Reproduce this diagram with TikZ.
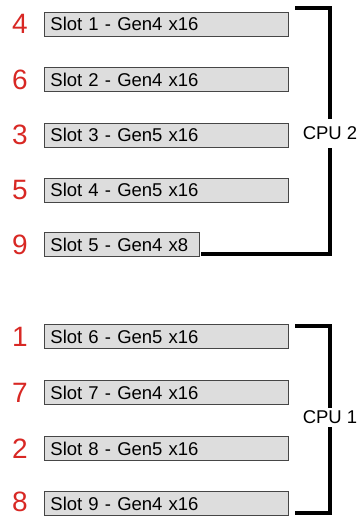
\documentclass[tikz,border=0pt]{standalone}
\usepackage{fontspec}
\setmainfont{Liberation Sans}
\usepackage{xcolor}
\usetikzlibrary{positioning}

\definecolor{slotgray}{RGB}{221,221,221}
\definecolor{slotedge}{RGB}{70,70,70}
\definecolor{numred}{RGB}{216,40,36}

\begin{document}
\begin{tikzpicture}[
  x=1pt, y=-1pt,
  every node/.style={font=\fontsize{18.5}{20}\selectfont},
  slot/.style={rectangle, draw=slotedge, line width=0.9pt, fill=slotgray,
               text width=232pt, align=left, inner xsep=6pt, inner ysep=0pt,
               minimum height=24pt, anchor=west},
  shortslot/.style={slot, text width=143pt},
  num/.style={text=numred, font=\fontsize{28}{30}\selectfont, inner sep=0pt},
  cpu/.style={inner sep=0pt, minimum height=#1},
  brace/.style={line width=3.5pt, line cap=rect}
]
\useasboundingbox (0,0) rectangle (362,517);

% CPU 2 slots
\node[slot]      (s1) at (44,24)    {Slot 1 - Gen4 x16};
\node[slot]      (s2) at (44,79.5)  {Slot 2 - Gen4 x16};
\node[slot]      (s3) at (44,135)   {Slot 3 - Gen5 x16};
\node[slot]      (s4) at (44,190)   {Slot 4 - Gen5 x16};
\node[shortslot] (s5) at (44,244.5) {Slot 5 - Gen4 x8};

% CPU 1 slots
\node[slot] (s6) at (44,336.5) {Slot 6 - Gen5 x16};
\node[slot] (s7) at (44,392.5) {Slot 7 - Gen4 x16};
\node[slot] (s8) at (44,448.5) {Slot 8 - Gen5 x16};
\node[slot] (s9) at (44,503.5) {Slot 9 - Gen4 x16};

% order numbers
\node[num] (n1) at (20,24)    {4};
\node[num] (n2) at (20,79.5)  {6};
\node[num] (n3) at (20,135)   {3};
\node[num] (n4) at (20,190)   {5};
\node[num] (n5) at (20,244.5) {9};
\node[num] (n6) at (20,336.5) {1};
\node[num] (n7) at (20,392.5) {7};
\node[num] (n8) at (20,448.5) {2};
\node[num] (n9) at (20,501.5) {8};

% processors
\node[cpu=33pt] (cpu2) at (330,133.5) {CPU 2};
\node[cpu=23pt] (cpu1) at (330,417.5) {CPU 1};

\coordinate (c2top) at (297,8);
\coordinate (c2bot) at (203,254);
\coordinate (c1top) at (297,326);
\coordinate (c1bot) at (297,513);

\draw[brace] (c2top) -| (cpu2.north);
\draw[brace] (c2bot) -| (cpu2.south);
\draw[brace] (c1top) -| (cpu1.north);
\draw[brace] (c1bot) -| (cpu1.south);
\end{tikzpicture}
\end{document}
